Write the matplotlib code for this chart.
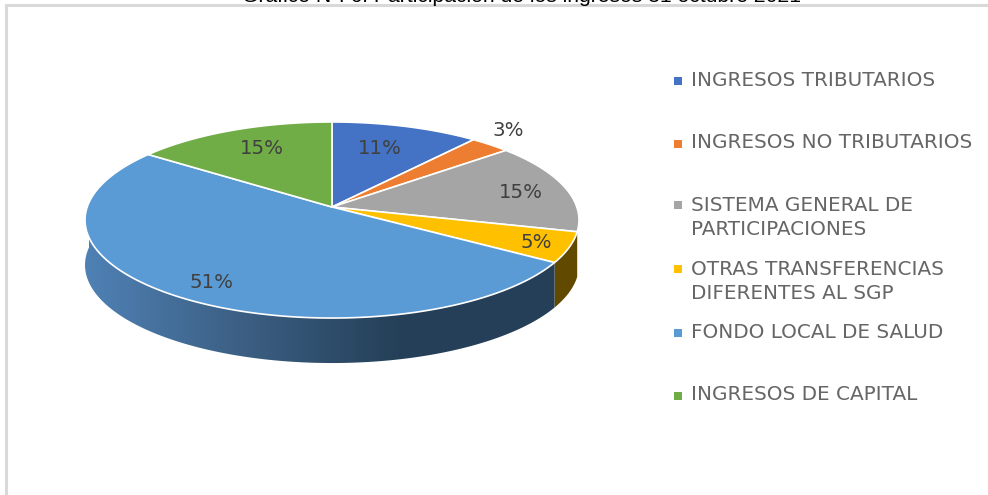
#!/usr/bin/env python3
# -*- coding: utf-8 -*-
import numpy as np
import matplotlib
matplotlib.use('Agg')
import matplotlib.pyplot as plt
from matplotlib.patches import Polygon
from matplotlib.colors import LinearSegmentedColormap

title = 'Gráfico Nº. 6: Participación de los ingresos 31 octubre 2021'
categories = ['INGRESOS TRIBUTARIOS', 'INGRESOS NO TRIBUTARIOS',
              'SISTEMA GENERAL DE\nPARTICIPACIONES',
              'OTRAS TRANSFERENCIAS\nDIFERENTES AL SGP',
              'FONDO LOCAL DE SALUD', 'INGRESOS DE CAPITAL']
shares = [11, 3, 15, 5, 51, 15]
colors = ['#4472c4', '#ed7d31', '#a5a5a5', '#ffc000', '#5b9bd5', '#70ad47']
wall_colors = [None, None, None, '#614900', None, None]
label_pos = [(380, 148), (508, 131), (521, 192), (536, 243), (211, 282), (262, 149)]
legend_y = [81, 144, 218, 282, 333, 396]

W, H = 988, 495
cx, cy = 332, 207      # apex of the pie in pixels
A, B, k = 96.3, 244.8, 0.1327   # perspective of the tilted disc
depth = 45


def rim(t):
    d = 1 + k * np.cos(t)
    return cx + B * np.sin(t) / d, cy - A * np.cos(t) / d


fig = plt.figure(figsize=(W / 100, H / 100), dpi=100)
ax = fig.add_axes([0, 0, 1, 1])
ax.set_xlim(0, W)
ax.set_ylim(H, 0)
ax.axis('off')

# frame of the chart, cut by the image on the right and bottom
ax.plot([5.5, 5.5, W], [H, 5, 5], color='#d9d9d9', lw=2.2, solid_joinstyle='miter')

edges = 2 * np.pi * np.concatenate([[0], np.cumsum(shares)]) / np.sum(shares)

# side wall, only the front part of the rim shows
front0 = np.pi / 2
for i in range(len(shares)):
    t0 = max(edges[i], front0 * 0.97)
    t1 = min(edges[i + 1], 1.5 * np.pi * 1.01)
    if t1 <= t0:
        continue
    x, y = rim(np.linspace(t0, t1, 150))
    pts = np.column_stack([np.r_[x, x[::-1]], np.r_[y, y[::-1] + depth]])
    if wall_colors[i] is not None:
        ax.add_patch(Polygon(pts, fc=wall_colors[i], ec='none'))
    elif i == 4:
        grad = LinearSegmentedColormap.from_list('wall', ['#4f81b5', '#3c5f83', '#254058', '#243f57'])
        im = ax.imshow(np.linspace(0, 1, 256)[None, :], extent=[x.min(), x.max(), 370, 210],
                       cmap=grad, aspect='auto', zorder=1)
        patch = Polygon(pts, fc='none', ec='none')
        ax.add_patch(patch)
        im.set_clip_path(patch)
ax.set_xlim(0, W)
ax.set_ylim(H, 0)

# top of the pie
for i in range(len(shares)):
    x, y = rim(np.linspace(edges[i], edges[i + 1], 200))
    pts = np.column_stack([np.r_[cx, x], np.r_[cy, y]])
    ax.add_patch(Polygon(pts, closed=True, fc=colors[i], ec='white', lw=1.2, zorder=2, joinstyle='round'))

for v, p in zip(shares, label_pos):
    ax.text(p[0], p[1], f'{v}%', ha='center', va='center', fontsize=14.2, color='#404040',
            family='DejaVu Sans', zorder=3)

# legend
for c, s, y in zip(colors, categories, legend_y):
    ax.plot([678], [y - (13 if '\n' in s else 0)], marker='s', ms=6.2, color=c, mew=0, ls='none')
    ax.text(691, y - (0.5 if '\n' in s else 1), s, ha='left', va='center', fontsize=14.4, color='#666666',
            family='DejaVu Sans', linespacing=1.36)

ax.text(521, 2.5, title, ha='center', va='baseline', fontsize=15.2, color='black',
        family='Liberation Sans', zorder=5)

fig.savefig('out.png', dpi=100)
